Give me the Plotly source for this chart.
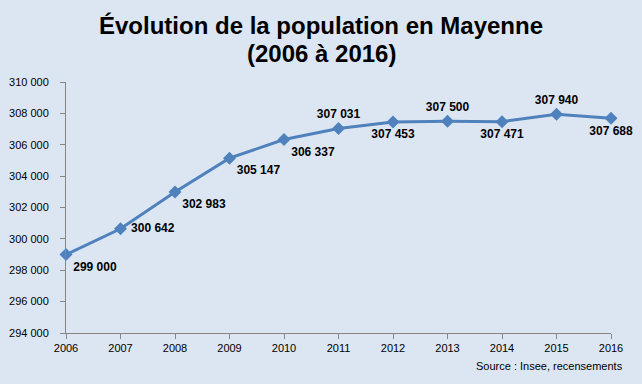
import plotly.graph_objects as go

years = [2006, 2007, 2008, 2009, 2010, 2011, 2012, 2013, 2014, 2015, 2016]
population = [299000, 300642, 302983, 305147, 306337, 307031, 307453, 307500, 307471, 307940, 307688]
label_pos = ["bottom right", "middle right", "bottom right", "bottom right", "bottom right",
             "top center", "bottom center", "top center", "bottom center", "top center", "bottom center"]
y_ticks = [294000, 296000, 298000, 300000, 302000, 304000, 306000, 308000, 310000]
title_lines = ["Évolution de la population en Mayenne", "(2006 à 2016)"]
source_text = "Source : Insee, recensements"

labels = [("\u00a0" if p == "middle right" else "") + f"{v:,}".replace(",", " ")
          for v, p in zip(population, label_pos)]
bg = "#DCE6F2"

fig = go.Figure()
fig.add_trace(go.Scatter(
    x=years, y=population, mode="lines+markers+text",
    line=dict(color="#4F81BD", width=3),
    marker=dict(symbol="diamond", size=10, color="#4F81BD"),
    text=labels, textposition=label_pos,
    textfont=dict(family="Liberation Sans, Arial", size=12, color="black", weight="bold"),
    cliponaxis=False, showlegend=False,
))

title_font = dict(family="Liberation Sans, Arial", size=24, color="black", weight="bold")

fig.update_layout(
    width=642, height=384,
    paper_bgcolor=bg, plot_bgcolor=bg,
    margin=dict(l=66, r=31, t=82, b=51),
    separators=", ",
    font=dict(family="Liberation Sans, Arial", size=11, color="black"),
    xaxis=dict(
        range=[2006, 2016], tickvals=years, showgrid=False, zeroline=False,
        showline=True, linecolor="#868686", linewidth=1, automargin=False,
        ticks="outside", ticklen=5, tickcolor="#868686",
        tickfont=dict(size=11),
    ),
    yaxis=dict(
        range=[294000, 310000], tickvals=y_ticks, tickformat=",d", showgrid=False, zeroline=False,
        showline=True, linecolor="#868686", linewidth=1, automargin=False,
        ticks="outside", ticklen=5, tickcolor="#868686", ticklabelstandoff=9,
        tickfont=dict(size=11),
    ),
    annotations=[
        dict(text=title_lines[0], xref="paper", yref="paper", x=0.468, y=1.225,
             xanchor="center", yanchor="middle", showarrow=False, font=title_font),
        dict(text=title_lines[1], xref="paper", yref="paper", x=0.468, y=1.1135,
             xanchor="center", yanchor="middle", showarrow=False, font=title_font),
        dict(text=source_text, xref="paper", yref="paper",
             x=1.025, y=-0.13, xanchor="right", yanchor="middle", showarrow=False,
             font=dict(family="Liberation Sans, Arial", size=11, color="black")),
    ],
)

fig.write_html("out.html", config={"displayModeBar": False},
               post_script="document.body.style.margin='0';")
